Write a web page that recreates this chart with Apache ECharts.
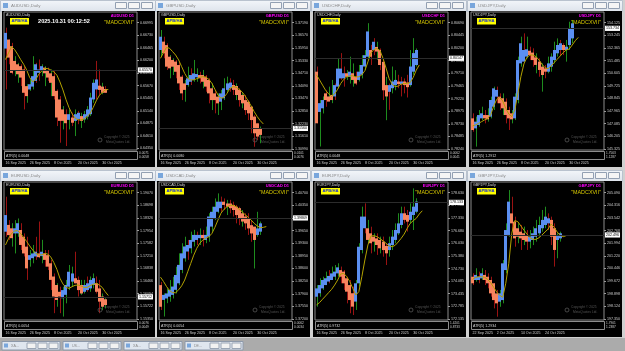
<!DOCTYPE html>
<html>
<head>
<meta charset="utf-8">
<script src="https://cdn.jsdelivr.net/npm/echarts@6/dist/echarts.min.js"></script>
<style>
  html, body { margin: 0; padding: 0; background: #d0d0d0; }
  #chart { width: 625px; height: 351px; }
</style>
</head>
<body>
<div id="chart"></div>
<script>
// trading days on the daily charts
const days = ['16 Sep 2025','17 Sep 2025','18 Sep 2025','19 Sep 2025','22 Sep 2025','23 Sep 2025','24 Sep 2025','25 Sep 2025','26 Sep 2025','29 Sep 2025','30 Sep 2025','1 Oct 2025','2 Oct 2025','3 Oct 2025','6 Oct 2025','7 Oct 2025','8 Oct 2025','9 Oct 2025','10 Oct 2025','13 Oct 2025','14 Oct 2025','15 Oct 2025','16 Oct 2025','17 Oct 2025','20 Oct 2025','21 Oct 2025','22 Oct 2025','23 Oct 2025','24 Oct 2025','27 Oct 2025','28 Oct 2025','29 Oct 2025','30 Oct 2025','31 Oct 2025'];
const dateTicksA = ['16 Sep 2025','26 Sep 2025','8 Oct 2025','20 Oct 2025','30 Oct 2025'];
const dateTicksB = ['22 Sep 2025','2 Oct 2025','14 Oct 2025','24 Oct 2025'];

// AUDUSD  (heiken ashi [open, close], candle [low, high, dir], moving average)
const audusdHA = [[0.6645,0.6678],[0.6664,0.6626],[0.6650,0.6594],[0.6619,0.6598],[0.6612,0.6591],[0.6608,0.6584],[0.6601,0.6552],[0.6566,0.6545],[0.6559,0.6570],[0.6565,0.6587],[0.6577,0.6612],[0.6594,0.6601],[0.6598,0.6608],[0.6605,0.6593],[0.6600,0.6584],[0.6593,0.6573],[0.6587,0.6545],[0.6556,0.6500],[0.6538,0.6493],[0.6517,0.6493],[0.6507,0.6488],[0.6495,0.6507],[0.6500,0.6489],[0.6493,0.6507],[0.6497,0.6510],[0.6503,0.6493],[0.6496,0.6507],[0.6502,0.6517],[0.6507,0.6542],[0.6538,0.6573],[0.6559,0.6580],[0.6567,0.6558],[0.6565,0.6552],[0.6560,0.6552]];
const audusdWick = [[0.6559,0.6689,-1],[0.6612,0.6664,-1],[0.6591,0.6657,-1],[0.6587,0.6629,1],[0.6573,0.6615,1],[0.6566,0.6612,-1],[0.6517,0.6608,-1],[0.6531,0.6570,1],[0.6556,0.6580,1],[0.6559,0.6629,1],[0.6573,0.6615,-1],[0.6577,0.6622,-1],[0.6587,0.6612,1],[0.6566,0.6608,1],[0.6577,0.6605,-1],[0.6545,0.6601,1],[0.6538,0.6598,-1],[0.6482,0.6559,-1],[0.6447,0.6545,-1],[0.6475,0.6524,1],[0.6440,0.6517,-1],[0.6475,0.6517,1],[0.6482,0.6510,-1],[0.6461,0.6517,1],[0.6486,0.6514,-1],[0.6478,0.6510,1],[0.6489,0.6514,1],[0.6496,0.6524,1],[0.6503,0.6552,1],[0.6531,0.6580,1],[0.6538,0.6619,-1],[0.6545,0.6601,-1],[0.6549,0.6573,1],[0.6552,0.6566,-1]];
const audusdMA = [0.6622,0.6636,0.6649,0.6643,0.6633,0.6622,0.6612,0.6600,0.6584,0.6575,0.6580,0.6591,0.6598,0.6603,0.6603,0.6600,0.6596,0.6589,0.6575,0.6558,0.6538,0.6521,0.6508,0.6499,0.6495,0.6495,0.6497,0.6502,0.6509,0.6521,0.6535,0.6546,0.6553,0.6558,0.6559];
const audusdTicks = [0.66995,0.66730,0.66465,0.66200,0.65935,0.65670,0.65405,0.65140,0.64875,0.64610,0.64350];

// GBPUSD
const gbpusdHA = [[1.3585,1.3650],[1.3626,1.3569],[1.3609,1.3503],[1.3552,1.3495],[1.3536,1.3503],[1.3528,1.3478],[1.3511,1.3421],[1.3454,1.3372],[1.3421,1.3389],[1.3413,1.3446],[1.3429,1.3462],[1.3438,1.3470],[1.3451,1.3467],[1.3462,1.3446],[1.3462,1.3429],[1.3454,1.3405],[1.3438,1.3372],[1.3397,1.3339],[1.3372,1.3339],[1.3356,1.3323],[1.3331,1.3372],[1.3348,1.3397],[1.3389,1.3421],[1.3397,1.3425],[1.3413,1.3389],[1.3408,1.3364],[1.3389,1.3339],[1.3364,1.3323],[1.3339,1.3290],[1.3331,1.3274],[1.3307,1.3241],[1.3258,1.3176],[1.3225,1.3160],[1.3200,1.3168]];
const gbpusdWick = [[1.3552,1.3683,1],[1.3544,1.3650,-1],[1.3487,1.3618,-1],[1.3446,1.3560,1],[1.3462,1.3544,1],[1.3446,1.3536,-1],[1.3389,1.3528,-1],[1.3339,1.3462,-1],[1.3331,1.3438,1],[1.3405,1.3503,1],[1.3413,1.3495,-1],[1.3429,1.3536,1],[1.3429,1.3495,1],[1.3421,1.3478,-1],[1.3397,1.3487,1],[1.3380,1.3462,-1],[1.3323,1.3446,-1],[1.3290,1.3421,1],[1.3274,1.3389,-1],[1.3266,1.3372,1],[1.3290,1.3389,1],[1.3339,1.3446,1],[1.3380,1.3454,1],[1.3380,1.3446,-1],[1.3364,1.3438,-1],[1.3339,1.3421,1],[1.3307,1.3397,-1],[1.3299,1.3372,1],[1.3266,1.3364,-1],[1.3241,1.3339,-1],[1.3176,1.3290,-1],[1.3110,1.3266,-1],[1.3143,1.3225,-1],[1.3127,1.3209,1]];
const gbpusdMA = [1.3544,1.3572,1.3598,1.3593,1.3577,1.3560,1.3536,1.3503,1.3470,1.3446,1.3438,1.3438,1.3444,1.3451,1.3454,1.3451,1.3441,1.3421,1.3392,1.3364,1.3348,1.3353,1.3372,1.3397,1.3405,1.3402,1.3392,1.3379,1.3359,1.3335,1.3310,1.3282,1.3258,1.3238,1.3222];
const gbpusdTicks = [1.37190,1.36570,1.35950,1.35330,1.34710,1.34090,1.33470,1.32850,1.32230,1.31610,1.30990];

// USDCHF
const usdchfHA = [[0.7974,0.7874],[0.7896,0.7913],[0.7903,0.7919],[0.7932,0.7919],[0.7926,0.7916],[0.7929,0.7919],[0.7926,0.7948],[0.7945,0.7980],[0.7961,0.7980],[0.7961,0.7971],[0.7971,0.7964],[0.7964,0.7974],[0.7971,0.7958],[0.7964,0.7951],[0.7958,0.7974],[0.7968,0.7987],[0.7984,0.8006],[0.8003,0.8052],[0.8016,0.8003],[0.8016,0.8032],[0.8022,0.8013],[0.8016,0.7987],[0.7993,0.7938],[0.7948,0.7926],[0.7935,0.7948],[0.7942,0.7955],[0.7948,0.7958],[0.7955,0.7950],[0.7950,0.7955],[0.7955,0.7948],[0.7953,0.7944],[0.7948,0.7984],[0.7974,0.8010],[0.7987,0.8016]];
const usdchfWick = [[0.7874,0.7984,-1],[0.7829,0.7919,1],[0.7893,0.7926,1],[0.7906,0.7938,-1],[0.7919,0.7945,1],[0.7913,0.7958,1],[0.7919,0.7951,-1],[0.7942,0.7999,1],[0.7958,0.8010,-1],[0.7945,0.7984,-1],[0.7958,0.7977,1],[0.7951,0.8003,1],[0.7945,0.7990,1],[0.7948,0.7974,-1],[0.7955,0.7987,1],[0.7961,0.8006,1],[0.7977,0.8016,1],[0.7997,0.8068,1],[0.7987,0.8026,-1],[0.8006,0.8039,-1],[0.7997,0.8032,1],[0.7977,0.8019,-1],[0.7919,0.7997,-1],[0.7880,0.7964,1],[0.7900,0.7951,-1],[0.7932,0.7984,1],[0.7938,0.7977,1],[0.7942,0.7968,-1],[0.7926,0.7964,-1],[0.7932,0.7961,-1],[0.7924,0.7968,-1],[0.7945,0.8016,1],[0.7968,0.8039,1],[0.7984,0.8019,1]];
const usdchfMA = [0.7968,0.7958,0.7948,0.7938,0.7931,0.7926,0.7931,0.7940,0.7951,0.7959,0.7964,0.7966,0.7966,0.7964,0.7964,0.7968,0.7976,0.7993,0.8010,0.8017,0.8019,0.8015,0.8000,0.7981,0.7961,0.7950,0.7945,0.7946,0.7950,0.7951,0.7951,0.7953,0.7963,0.7977,0.7987];
const usdchfTicks = [0.80690,0.80445,0.80200,0.79955,0.79710,0.79465,0.79220,0.78975,0.78730,0.78485,0.78240];

// USDJPY
const usdjpyHA = [[147.46,146.65],[146.76,147.23],[147.00,147.69],[147.46,147.81],[147.69,147.46],[147.69,147.39],[147.58,148.74],[148.27,149.55],[148.97,149.44],[148.97,148.51],[148.86,148.16],[148.62,147.69],[148.04,147.46],[147.81,147.39],[147.46,148.97],[148.74,151.52],[151.29,152.69],[151.41,152.22],[151.76,152.27],[152.17,151.87],[152.04,151.52],[151.71,151.18],[151.41,150.83],[151.06,150.48],[150.94,150.71],[150.71,151.29],[151.06,151.76],[151.52,152.22],[151.99,152.57],[152.22,152.69],[152.57,152.22],[152.22,152.45],[152.57,153.73],[153.03,154.08]];
const usdjpyWick = [[146.53,147.81,-1],[145.49,147.58,1],[146.88,148.04,1],[147.34,148.27,1],[147.11,148.04,-1],[147.23,148.16,1],[147.46,148.97,1],[148.04,149.67,1],[148.51,149.67,-1],[148.04,149.20,-1],[147.69,149.20,1],[147.11,148.85,-1],[146.65,148.27,-1],[147.11,148.04,1],[147.34,149.20,1],[148.51,151.76,1],[151.06,153.15,1],[151.52,153.38,-1],[151.64,153.15,1],[151.52,152.45,-1],[151.06,152.34,-1],[150.60,151.99,1],[150.36,151.64,-1],[149.32,151.29,1],[150.25,151.18,-1],[150.60,151.76,1],[150.71,151.99,1],[151.29,152.80,1],[151.76,153.03,1],[151.87,152.92,-1],[151.87,152.69,-1],[151.41,152.92,1],[152.22,154.19,1],[152.69,154.31,1]];
const usdjpyMA = [146.93,147.00,147.11,147.23,147.35,147.46,147.69,148.32,148.78,148.92,148.67,148.16,147.76,147.58,148.04,149.20,150.36,151.25,151.71,151.87,151.87,151.76,151.52,151.22,150.99,150.92,151.11,151.34,151.57,151.80,152.04,152.22,152.29,152.57,152.87,153.10];
const usdjpyTicks = [154.125,153.245,152.365,151.485,150.605,149.725,148.845,147.965,147.085,146.205,145.325];

// EURUSD
const eurusdHA = [[1.1792,1.1841],[1.1812,1.1782],[1.1802,1.1773],[1.1787,1.1802],[1.1787,1.1817],[1.1797,1.1753],[1.1777,1.1728],[1.1748,1.1684],[1.1709,1.1723],[1.1714,1.1728],[1.1719,1.1733],[1.1728,1.1717],[1.1720,1.1733],[1.1728,1.1709],[1.1723,1.1689],[1.1699,1.1650],[1.1660,1.1601],[1.1635,1.1591],[1.1615,1.1601],[1.1596,1.1620],[1.1606,1.1635],[1.1630,1.1674],[1.1645,1.1669],[1.1655,1.1640],[1.1650,1.1620],[1.1635,1.1610],[1.1615,1.1635],[1.1620,1.1640],[1.1625,1.1650],[1.1635,1.1655],[1.1640,1.1615],[1.1625,1.1586],[1.1601,1.1571],[1.1593,1.1576]];
const eurusdWick = [[1.1777,1.1895,-1],[1.1768,1.1826,-1],[1.1748,1.1817,1],[1.1728,1.1826,1],[1.1777,1.1831,1],[1.1738,1.1817,-1],[1.1719,1.1787,-1],[1.1650,1.1777,-1],[1.1689,1.1738,1],[1.1699,1.1753,1],[1.1709,1.1777,-1],[1.1714,1.1822,-1],[1.1699,1.1768,1],[1.1689,1.1738,-1],[1.1679,1.1738,-1],[1.1620,1.1709,-1],[1.1552,1.1669,-1],[1.1571,1.1640,1],[1.1552,1.1630,-1],[1.1542,1.1630,1],[1.1581,1.1650,1],[1.1620,1.1694,1],[1.1630,1.1689,1],[1.1640,1.1733,-1],[1.1601,1.1660,-1],[1.1606,1.1650,1],[1.1610,1.1650,1],[1.1615,1.1660,-1],[1.1615,1.1660,1],[1.1625,1.1669,1],[1.1610,1.1660,-1],[1.1552,1.1650,-1],[1.1561,1.1610,1],[1.1566,1.1596,1]];
const eurusdMA = [1.1753,1.1772,1.1787,1.1794,1.1795,1.1787,1.1775,1.1763,1.1750,1.1738,1.1728,1.1723,1.1724,1.1728,1.1726,1.1717,1.1701,1.1681,1.1655,1.1638,1.1628,1.1625,1.1630,1.1634,1.1635,1.1632,1.1628,1.1628,1.1633,1.1637,1.1640,1.1635,1.1628,1.1615,1.1604];
const eurusdTicks = [1.19070,1.18698,1.18326,1.17954,1.17582,1.17210,1.16838,1.16466,1.16094,1.15722,1.15350];

// USDCAD
const usdcadHA = [[1.3814,1.3754],[1.3773,1.3787],[1.3777,1.3791],[1.3782,1.3801],[1.3787,1.3810],[1.3801,1.3842],[1.3819,1.3870],[1.3856,1.3902],[1.3888,1.3921],[1.3907,1.3925],[1.3916,1.3939],[1.3934,1.3953],[1.3939,1.3953],[1.3944,1.3953],[1.3953,1.3944],[1.3939,1.3953],[1.3948,1.4004],[1.3976,1.4017],[1.3999,1.4031],[1.4017,1.4045],[1.4027,1.4045],[1.4045,1.4036],[1.4040,1.4031],[1.4040,1.4027],[1.4036,1.4022],[1.4031,1.4008],[1.4027,1.3999],[1.4013,1.3990],[1.4004,1.3985],[1.3999,1.3971],[1.3980,1.3957],[1.3976,1.3939],[1.3953,1.3971],[1.3962,1.3985]];
const usdcadWick = [[1.3745,1.3823,-1],[1.3727,1.3791,1],[1.3764,1.3805,1],[1.3768,1.3828,1],[1.3777,1.3837,1],[1.3791,1.3865,1],[1.3814,1.3902,1],[1.3847,1.3930,1],[1.3879,1.3948,1],[1.3884,1.3939,-1],[1.3902,1.3962,1],[1.3921,1.3967,1],[1.3925,1.3962,-1],[1.3925,1.3971,1],[1.3921,1.3967,-1],[1.3930,1.3976,1],[1.3934,1.4013,1],[1.3962,1.4031,1],[1.3994,1.4054,1],[1.4013,1.4068,1],[1.4017,1.4059,-1],[1.4022,1.4054,-1],[1.4008,1.4050,1],[1.4013,1.4050,-1],[1.4004,1.4045,-1],[1.3985,1.4036,-1],[1.3980,1.4031,-1],[1.3976,1.4022,1],[1.3967,1.4013,-1],[1.3953,1.4013,-1],[1.3934,1.3994,-1],[1.3860,1.3957,1],[1.3948,1.4017,1],[1.3953,1.3990,1]];
const usdcadMA = [1.3836,1.3824,1.3810,1.3799,1.3793,1.3793,1.3801,1.3812,1.3828,1.3851,1.3874,1.3897,1.3916,1.3930,1.3939,1.3944,1.3948,1.3957,1.3974,1.3994,1.4013,1.4024,1.4031,1.4035,1.4035,1.4031,1.4024,1.4017,1.4009,1.4002,1.3994,1.3985,1.3978,1.3973,1.3974,1.3976];
const usdcadTicks = [1.40700,1.40350,1.40000,1.39650,1.39300,1.38950,1.38600,1.38250,1.37900,1.37550,1.37200];

// EURJPY
const eurjpyHA = [[173.28,173.71],[173.46,173.88],[173.71,174.14],[173.88,174.23],[174.06,174.35],[174.14,174.48],[174.31,174.57],[174.48,174.79],[174.65,174.31],[174.57,173.97],[174.23,173.54],[173.88,173.11],[173.46,172.77],[173.03,173.97],[173.97,175.85],[175.68,177.40],[176.80,177.40],[176.80,176.20],[176.54,176.03],[176.37,176.11],[176.28,175.94],[176.20,175.77],[176.11,175.68],[175.89,175.51],[175.68,176.03],[175.94,176.37],[176.20,176.71],[176.54,177.05],[176.97,177.57],[177.57,177.23],[177.48,177.14],[177.23,177.65],[177.48,177.91],[177.65,178.17]];
const eurjpyWick = [[172.77,173.88,1],[173.28,174.23,1],[173.63,174.31,1],[173.88,174.57,1],[173.97,174.65,-1],[174.14,174.83,1],[174.14,174.91,1],[174.31,175.00,1],[173.97,174.83,-1],[173.63,174.65,-1],[172.94,174.31,-1],[172.43,174.14,-1],[172.34,173.80,-1],[172.60,174.14,1],[173.80,176.03,1],[175.51,177.91,1],[176.54,178.08,-1],[176.03,177.23,1],[175.51,176.88,-1],[175.60,176.54,1],[175.43,176.54,-1],[175.51,176.37,1],[175.34,176.37,-1],[174.91,176.03,-1],[175.34,176.37,1],[175.68,176.71,1],[176.03,177.05,1],[176.45,177.57,1],[176.80,177.91,1],[177.05,177.91,-1],[176.63,177.74,-1],[177.05,178.08,1],[176.71,178.85,1],[177.57,178.34,1]];
const eurjpyMA = [172.86,172.98,173.15,173.32,173.49,173.66,173.88,174.14,174.45,174.48,174.31,174.06,173.71,173.37,173.54,174.31,175.17,175.94,176.40,176.42,176.37,176.27,176.15,176.03,175.89,175.85,175.92,176.09,176.28,176.50,176.80,177.05,177.19,177.31,177.53,177.70];
const eurjpyTicks = [178.630,177.980,177.330,176.680,176.030,175.380,174.730,174.085,173.435,172.785,172.135];

// GBPJPY (starts 22 Sep)
const gbpjpyHA = [[199.94,199.54],[199.74,200.05],[199.74,199.94],[199.84,200.15],[200.05,199.74],[199.94,199.54],[199.74,198.92],[199.54,198.51],[198.92,198.31],[198.41,198.92],[198.51,200.76],[200.35,202.80],[202.50,204.54],[203.82,203.21],[203.31,202.29],[202.91,202.39],[202.70,202.29],[202.60,202.19],[202.50,202.09],[202.09,202.39],[202.19,202.60],[202.39,202.91],[202.60,203.11],[202.91,203.42],[203.11,203.62],[203.21,203.52],[203.42,202.39],[202.91,201.58],[202.19,202.50],[202.29,202.60]];
const gbpjpyWick = [[199.43,200.15,-1],[199.64,200.46,1],[199.54,200.25,-1],[199.74,200.46,1],[199.43,200.35,-1],[199.23,200.15,-1],[198.72,199.94,-1],[198.00,199.54,-1],[197.49,199.13,-1],[198.10,199.13,1],[198.31,200.96,1],[200.15,203.21,1],[202.39,205.25,1],[202.80,204.84,-1],[201.78,203.62,-1],[201.99,203.21,1],[201.58,203.11,-1],[201.88,203.01,1],[201.58,202.80,-1],[201.68,202.80,1],[201.88,203.01,1],[202.09,203.42,1],[202.39,203.62,1],[202.70,204.03,1],[202.91,204.23,1],[202.80,203.82,-1],[201.88,203.62,-1],[200.56,203.21,-1],[201.07,202.60,1],[202.09,202.70,1]];
const gbpjpyMA = [199.78,199.90,199.94,199.94,199.90,199.78,199.58,199.29,199.00,198.80,198.68,199.54,200.76,202.60,203.38,203.31,203.05,202.80,202.56,202.33,202.23,202.23,202.33,202.50,202.68,202.86,203.17,202.97,202.68,202.48,202.39,202.46];
const gbpjpyTicks = [205.090,204.316,203.542,202.768,201.994,201.220,200.446,199.672,198.898,198.124,197.350];

const panels = [
  { sym: 'AUDUSD', ha: audusdHA, wick: audusdWick, ma: audusdMA, yt: audusdTicks, min: 0.64317, max: 0.67219, dec: 5, cur: 0.65570, atr: '0.0048', atrR: ['0.0071', '0.0058'], start: 0, dt: dateTicksA },
  { sym: 'GBPUSD', ha: gbpusdHA, wick: gbpusdWick, ma: gbpusdMA, yt: gbpusdTicks, min: 1.30940, max: 1.37714, dec: 5, cur: 1.31560, atr: '0.0080', atrR: ['0.0101', '0.0076'], start: 0, dt: dateTicksA },
  { sym: 'USDCHF', ha: usdchfHA, wick: usdchfWick, ma: usdchfMA, yt: usdchfTicks, min: 0.78222, max: 0.80897, dec: 5, cur: 0.80147, atr: '0.0048', atrR: ['0.0062', '0.0041'], start: 0, dt: dateTicksA },
  { sym: 'USDJPY', ha: usdjpyHA, wick: usdjpyWick, ma: usdjpyMA, yt: usdjpyTicks, min: 145.255, max: 154.868, dec: 3, cur: 153.734, atr: '1.2912', atrR: ['1.7563', '1.1287'], start: 0, dt: dateTicksA },
  { sym: 'EURUSD', ha: eurusdHA, wick: eurusdWick, ma: eurusdMA, yt: eurusdTicks, min: 1.15319, max: 1.19384, dec: 5, cur: 1.15712, atr: '0.0054', atrR: ['0.0076', '0.0049'], start: 0, dt: dateTicksA },
  { sym: 'USDCAD', ha: usdcadHA, wick: usdcadWick, ma: usdcadMA, yt: usdcadTicks, min: 1.37174, max: 1.40995, dec: 5, cur: 1.39869, atr: '0.0054', atrR: ['0.0062', '0.0034'], start: 0, dt: dateTicksA },
  { sym: 'EURJPY', ha: eurjpyHA, wick: eurjpyWick, ma: eurjpyMA, yt: eurjpyTicks, min: 172.084, max: 179.178, dec: 3, cur: 178.133, atr: '0.9732', atrR: ['1.4201', '0.8733'], start: 0, dt: dateTicksA },
  { sym: 'GBPJPY', ha: gbpjpyHA, wick: gbpjpyWick, ma: gbpjpyMA, yt: gbpjpyTicks, min: 197.289, max: 205.743, dec: 3, cur: 202.496, atr: '1.2934', atrR: ['1.7901', '1.2387'], start: 4, dt: dateTicksB }
];

const winX = [0, 155, 311, 467];
const winY = [0, 170];
const NCAT = 44;
const FONT = 'Liberation Sans';

const UP = '#5b8ff0';
const DOWN = '#f7845e';

const rect = (x, y, w, h, fill, stroke, z) => ({
  type: 'rect', silent: true, z: z,
  shape: { x: x, y: y, width: w, height: h },
  style: { fill: fill, stroke: stroke || null, lineWidth: 1 }
});
const text = (x, y, str, size, color, align, bold, z) => ({
  type: 'text', silent: true, z: z === undefined ? 10 : z, x: x, y: y,
  style: { text: str, fill: color, fontSize: size, fontFamily: FONT, fontWeight: bold ? 'bold' : 'normal', align: align || 'left', verticalAlign: 'middle' }
});

// candle wicks: thin line low..high
function wickItem(params, api) {
  const a = api.coord([api.value(0), api.value(1)]);
  const b = api.coord([api.value(0), api.value(2)]);
  const px = Math.round(a[0]) + 0.5;
  return {
    type: 'line',
    shape: { x1: px, y1: a[1], x2: px, y2: b[1] },
    style: { stroke: api.value(3) > 0 ? '#1e8c1e' : '#9a1212', lineWidth: 1 }
  };
}

// heiken ashi bodies
function bodyItem(params, api) {
  const o = api.coord([api.value(0), api.value(1)]);
  const c = api.coord([api.value(0), api.value(2)]);
  const top = Math.min(o[1], c[1]);
  const h = Math.max(1, Math.abs(o[1] - c[1]));
  return {
    type: 'rect',
    shape: { x: Math.round(o[0] - 1.5), y: top, width: 3, height: h },
    style: { fill: api.value(2) >= api.value(1) ? UP : DOWN }
  };
}

const grids = [], xAxes = [], yAxes = [], series = [], graphic = [];

// desktop strip with minimised windows
graphic.push(rect(0, 338, 625, 13, '#ababab', null, -5));
['XA...', 'US...', 'XA...', 'DE...'].forEach((t, i) => {
  const bx = 2 + i * 61;
  graphic.push(rect(bx, 341.5, 58, 8.5, '#dfe6ef', '#8d99aa', 5));
  graphic.push(rect(bx + 2, 343.5, 4, 4, '#7aa7dc', null, 6));
  graphic.push(text(bx + 9, 346, t, 3.6, '#8a8a8a', 'left', false, 6));
  [25, 36, 47].forEach(o => graphic.push(rect(bx + o, 343, 9, 5.5, '#f2f2f2', '#9aa5b5', 6)));
});

panels.forEach((p, k) => {
  const col = k % 4, row = Math.floor(k / 4);
  const x0 = winX[col], y0 = winY[row];
  const left = x0 + 4, top = y0 + 12;

  // window chrome
  graphic.push({
    type: 'rect', silent: true, z: -4,
    shape: { x: x0 + 0.5, y: y0 + 0.5, width: 155, height: 11 },
    style: {
      fill: new echarts.graphic.LinearGradient(0, 0, 0, 1, [{ offset: 0, color: '#f3f6fa' }, { offset: 1, color: '#dde3eb' }]),
      stroke: '#b9c2ce', lineWidth: 1
    }
  });
  graphic.push(rect(x0 + 3, y0 + 3, 5, 5, '#78a6dc', null, -3));
  graphic.push(text(x0 + 11, y0 + 6, p.sym + ',Daily', 4.4, '#8c8c8c', 'left', false, -3));
  [115, 128, 141].forEach(o => graphic.push(rect(x0 + o + 0.5, y0 + 2.5, 11, 6, '#f5f5f5', '#93a0b2', -3)));
  graphic.push(rect(x0 + 2, y0 + 11, 153, 156, '#000', null, -4));

  // ATR sub window
  graphic.push(rect(left + 0.5, y0 + 151.5, 133, 8, '#000', '#8c8c8c', -3));
  graphic.push(text(x0 + 6, y0 + 155.5, 'ATR(5) ' + p.atr, 3.6, '#d8d8d8'));
  graphic.push(text(x0 + 139, y0 + 153, p.atrR[0], 3.2, '#cfcfcf'));
  graphic.push(text(x0 + 139, y0 + 157, p.atrR[1], 3.2, '#cfcfcf'));

  // chart overlays
  graphic.push(text(x0 + 6, y0 + 15, p.sym + ',Daily', 3.6, '#d8d8d8'));
  graphic.push(rect(x0 + 10, y0 + 18, 19, 6.5, '#ffff00', null, 10));
  graphic.push(text(x0 + 19.5, y0 + 21.3, 'APB/HA', 4.2, '#1a2fd0', 'center', true, 11));
  graphic.push(text(x0 + 134, y0 + 15.5, p.sym + ' D1', 4, '#ff00ff', 'right', true));
  graphic.push(text(x0 + 134, y0 + 23, '"MADCXVII"', 5.4, '#d6c800', 'right'));
  graphic.push(text(x0 + 104, y0 + 137, 'Copyright © 2025', 3.3, '#555'));
  graphic.push(text(x0 + 106, y0 + 142, 'MetaQuotes Ltd.', 3.3, '#555'));
  graphic.push({ type: 'circle', silent: true, z: 10, shape: { cx: x0 + 100, cy: y0 + 140, r: 2 }, style: { fill: null, stroke: '#555', lineWidth: 0.8 } });
  if (k === 0) {
    graphic.push(text(x0 + 64, y0 + 21.5, '2025.10.31 00:12:52', 5.6, '#ffffff', 'center', true));
  }

  const cats = days.slice(p.start);
  while (cats.length < NCAT) cats.push('pad' + cats.length);

  grids.push({ left: left, top: top, width: 133, height: 138, show: true, backgroundColor: '#000', borderColor: '#8c8c8c', borderWidth: 1 });
  xAxes.push({
    gridIndex: k, type: 'category', data: cats, boundaryGap: true,
    axisLine: { show: false }, axisTick: { show: false }, splitLine: { show: false },
    axisLabel: {
      interval: (i, v) => p.dt.includes(v),
      align: 'left', fontSize: 3.6, fontFamily: FONT, color: '#cfcfcf', margin: 11
    }
  });
  yAxes.push({
    gridIndex: k, type: 'value', position: 'right', min: p.min, max: p.max,
    axisLine: { show: false }, splitLine: { show: false },
    axisTick: { show: true, customValues: p.yt, length: 2, lineStyle: { color: '#9a9a9a' } },
    axisLabel: { customValues: p.yt, formatter: v => v.toFixed(p.dec), fontSize: 3.6, fontFamily: FONT, color: '#cfcfcf', margin: 3 }
  });

  series.push({
    type: 'custom', xAxisIndex: k, yAxisIndex: k, clip: true, silent: true, z: 2,
    renderItem: wickItem, encode: { x: 0, y: [1, 2] },
    data: p.wick.map((w, i) => [i, w[0], w[1], w[2]])
  });
  series.push({
    type: 'custom', xAxisIndex: k, yAxisIndex: k, clip: true, silent: true, z: 3,
    renderItem: bodyItem, encode: { x: 0, y: [1, 2] },
    data: p.ha.map((d, i) => [i, d[0], d[1]])
  });
  series.push({
    type: 'line', xAxisIndex: k, yAxisIndex: k, data: p.ma, z: 4,
    showSymbol: false, symbol: 'none', silent: true,
    lineStyle: { color: '#b3a200', width: 1 },
    markLine: {
      silent: true, symbol: ['none', 'none'],
      lineStyle: { color: '#2c2c2c', width: 1, type: 'solid' },
      label: {
        position: 'end', formatter: p.cur.toFixed(p.dec), color: '#000', backgroundColor: '#ffffff',
        fontSize: 3.6, fontFamily: FONT, padding: [0.6, 1], distance: 1
      },
      data: [{ yAxis: p.cur }]
    }
  });
});

const chart = echarts.init(document.getElementById('chart'));
chart.setOption({
  backgroundColor: '#d0d0d0',
  animation: false,
  grid: grids,
  xAxis: xAxes,
  yAxis: yAxes,
  series: series,
  graphic: graphic
});
</script>
</body>
</html>
